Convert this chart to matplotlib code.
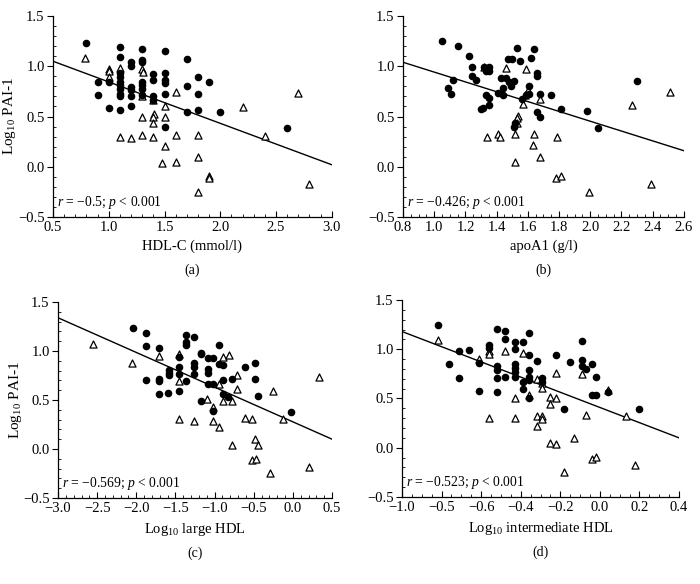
import matplotlib
matplotlib.use("Agg")
import matplotlib.pyplot as plt
from matplotlib.ticker import MultipleLocator
import numpy as np

plt.rcParams['font.family'] = ['Liberation Serif', 'DejaVu Serif']
plt.rcParams['mathtext.fontset'] = 'custom'
plt.rcParams['mathtext.rm'] = 'Liberation Serif'
plt.rcParams['mathtext.it'] = 'Liberation Serif:italic'
plt.rcParams['font.size'] = 10

# (a) HDL-C
a_dot_x = [0.80, 1.1, 1.1, 1.1, 1.1, 1.1, 1.1, 1.1, 1.1, 1.1, 1.1, 1.0, 1.0, 0.9, 0.9,
           1.2, 1.2, 1.2, 1.2, 1.2, 1.2, 1.3, 1.3, 1.3, 1.3, 1.3, 1.3, 1.3,
           1.4, 1.4, 1.4, 1.4, 1.5, 1.5, 1.5, 1.5, 1.5, 1.5, 1.7, 1.7, 1.7,
           1.8, 1.8, 1.8, 1.9, 2.0, 2.6]
a_dot_y = [1.23, 1.19, 1.09, 0.93, 0.89, 0.84, 0.81, 0.77, 0.72, 0.70, 0.565, 0.84, 0.58, 0.84, 0.71,
           1.04, 1.00, 0.79, 0.76, 0.70, 0.60, 1.17, 1.06, 1.04, 0.84, 0.81, 0.77, 0.71,
           0.92, 0.86, 0.70, 0.66, 1.15, 0.93, 0.86, 0.83, 0.72, 0.40, 1.07, 0.80, 0.54,
           0.89, 0.72, 0.56, 0.84, 0.545, 0.39]
a_tri_x = [0.79, 1.0, 1.0, 1.0, 1.1, 1.3, 1.31, 1.3, 1.4, 1.6, 1.5, 1.3, 1.41, 1.4, 1.4, 1.5,
           2.2, 2.7, 1.1, 1.2, 1.3, 1.4, 1.6, 1.8, 2.4, 1.5, 1.8, 1.48, 1.6, 1.9, 1.9, 1.8, 2.8]
a_tri_y = [1.08, 0.97, 0.95, 0.89, 0.98, 0.97, 0.94, 0.70, 0.66, 0.74, 0.60, 0.50, 0.52, 0.50, 0.44, 0.50,
           0.59, 0.73, 0.30, 0.29, 0.32, 0.30, 0.32, 0.32, 0.31, 0.21, 0.10, 0.04, 0.05, -0.09, -0.11, -0.25, -0.17]

# (b) apoA1
b_dot_x = [1.05, 1.15, 1.22, 1.24, 1.24, 1.27, 1.12, 1.09, 1.11, 1.32, 1.33, 1.35, 1.35,
           1.33, 1.35, 1.35, 1.30, 1.31, 1.41, 1.44, 1.44, 1.43, 1.46, 1.48, 1.49, 1.51,
           1.47, 1.50, 1.53, 1.55, 1.62, 1.64, 1.66, 1.66, 1.61, 1.61, 1.59, 1.56, 1.68,
           1.75, 1.66, 1.68, 1.81, 1.98, 2.05, 2.30, 1.51, 1.52]
b_dot_y = [1.25, 1.20, 1.10, 0.99, 0.90, 0.86, 0.86, 0.78, 0.72, 0.99, 0.95, 0.99, 0.95,
           0.71, 0.68, 0.61, 0.57, 0.58, 0.73, 0.71, 0.78, 0.88, 0.88, 0.84, 0.80, 0.85,
           1.07, 1.07, 1.18, 1.05, 1.08, 1.17, 0.93, 0.90, 0.80, 0.72, 0.71, 0.67, 0.72,
           0.71, 0.54, 0.50, 0.57, 0.55, 0.39, 0.85, 0.40, 0.44]
b_tri_x = [1.32, 1.46, 1.59, 1.60, 1.58, 1.68, 1.57, 1.54, 1.53, 1.53, 1.34, 1.41, 1.42,
           1.52, 1.64, 1.79, 1.63, 1.68, 1.52, 1.78, 1.81, 1.99, 2.39, 2.27, 2.51]
b_tri_y = [0.99, 0.98, 0.97, 0.76, 0.71, 0.67, 0.62, 0.51, 0.49, 0.44, 0.30, 0.33, 0.30,
           0.33, 0.33, 0.30, 0.22, 0.10, 0.05, -0.11, -0.09, -0.25, -0.17, 0.61, 0.74]

# (c) log10 large HDL
c_dot_x = [-2.04, -1.87, -1.87, -1.71, -1.87, -1.71, -1.71, -1.71, -1.59, -1.58, -1.58, -1.58,
           -1.46, -1.46, -1.46, -1.46, -1.36, -1.36, -1.36, -1.36, -1.26, -1.26, -1.26, -1.26,
           -1.17, -1.17, -1.17, -1.09, -1.09, -1.09, -1.09, -1.02, -1.02, -0.95, -0.95, -0.89,
           -0.89, -0.89, -0.83, -1.02, -0.78, -0.61, -0.48, -0.48, -0.44, -0.02]
c_dot_y = [1.23, 1.18, 1.05, 1.03, 0.70, 0.71, 0.69, 0.56, 0.57, 0.81, 0.78, 0.76,
           0.94, 0.84, 0.77, 0.59, 1.16, 1.09, 1.06, 0.69, 1.14, 0.88, 0.84, 0.77,
           0.98, 0.97, 0.49, 0.93, 0.82, 0.78, 0.66, 0.93, 0.66, 1.06, 0.87, 0.86,
           0.70, 0.56, 0.53, 0.39, 0.71, 0.84, 0.88, 0.71, 0.54, 0.38]
c_tri_x = [-2.55, -2.05, -1.71, -1.45, -1.45, -0.89, -0.82, -0.95, -0.72, -0.72, -1.10, -1.02,
           -0.89, -0.78, -0.26, 0.34, -1.45, -1.26, -1.02, -0.95, -0.61, -0.52, -0.13, -0.78,
           -0.48, -0.44, -0.52, -0.47, -0.29, 0.21]
c_tri_y = [1.07, 0.88, 0.95, 0.97, 0.69, 0.94, 0.96, 0.66, 0.75, 0.61, 0.51, 0.43,
           0.49, 0.49, 0.59, 0.73, 0.31, 0.29, 0.29, 0.22, 0.32, 0.31, 0.31, 0.04,
           0.10, 0.04, -0.11, -0.10, -0.25, -0.18]

# (d) log10 intermediate HDL
d_dot_x = [-0.82, -0.76, -0.71, -0.71, -0.66, -0.61, -0.61, -0.56, -0.56, -0.52, -0.52, -0.52,
           -0.52, -0.52, -0.48, -0.48, -0.48, -0.43, -0.43, -0.43, -0.43, -0.43, -0.43,
           -0.39, -0.39, -0.39, -0.36, -0.36, -0.36, -0.36, -0.36, -0.36, -0.32, -0.29, -0.29,
           -0.22, -0.18, -0.15, -0.09, -0.09, -0.09, -0.07, -0.04, -0.02, -0.04, -0.02, 0.04, 0.20]
d_dot_y = [1.25, 0.85, 0.98, 0.71, 0.99, 0.86, 0.58, 1.04, 1.01, 1.21, 0.83, 0.79,
           0.71, 0.57, 1.19, 1.10, 0.72, 1.07, 1.00, 0.85, 0.81, 0.77, 0.72,
           1.07, 0.67, 0.60, 1.16, 0.94, 0.79, 0.72, 0.69, 0.50, 0.88, 0.71, 0.67,
           0.94, 0.39, 0.87, 1.08, 0.89, 0.83, 0.80, 0.85, 0.72, 0.54, 0.54, 0.57, 0.39]
d_tri_x = [-0.82, -0.61, -0.56, -0.56, -0.48, -0.39, -0.32, -0.29, -0.29, -0.22, -0.09, 0.04,
           -0.43, -0.36, -0.25, -0.22, -0.25, -0.56, -0.43, -0.32, -0.29, -0.29, -0.32, -0.07,
           0.13, -0.13, -0.25, -0.22, -0.04, -0.02, -0.18, 0.18]
d_tri_y = [1.09, 0.90, 0.98, 0.95, 0.98, 0.96, 0.70, 0.66, 0.61, 0.76, 0.75, 0.59,
           0.50, 0.54, 0.52, 0.51, 0.44, 0.30, 0.30, 0.32, 0.32, 0.29, 0.22, 0.33,
           0.32, 0.10, 0.05, 0.04, -0.11, -0.09, -0.25, -0.18]

# regression lines: (intercept, slope)
fits = [(1.256, -0.412), (1.431, -0.489), (0.277, -0.354), (0.409, -0.771)]
stats = [r'$r$ = −0.5; $p$ < 0.001', r'$r$ = −0.426; $p$ < 0.001',
         r'$r$ = −0.569; $p$ < 0.001', r'$r$ = −0.523; $p$ < 0.001']
xlabels = ['HDL-C (mmol/l)', 'apoA1 (g/l)', r'Log$_{10}$ large HDL', r'Log$_{10}$ intermediate HDL']
captions = ['(a)', '(b)', '(c)', '(d)']
xlims = [(0.5, 3.0), (0.8, 2.6), (-3.0, 0.5), (-1.0, 0.4)]
xmajor = [0.5, 0.2, 0.5, 0.2]
xminor = [0.1, 0.05, 0.1, 0.05]
d_ticks = [-1.0, -0.8, -0.6, -0.4, -0.2, 0.0, 0.2, 0.4]
d_ticklabels = ['−1.0', '−0.5', '−0.6', '−0.4', '−0.2', '0.0', '0.2', '0.4']

dots = [(a_dot_x, a_dot_y), (b_dot_x, b_dot_y), (c_dot_x, c_dot_y), (d_dot_x, d_dot_y)]
tris = [(a_tri_x, a_tri_y), (b_tri_x, b_tri_y), (c_tri_x, c_tri_y), (d_tri_x, d_tri_y)]

fig = plt.figure(figsize=(7, 5.84), dpi=100)
rects = [[0.0757, 0.6284, 0.3983, 0.3442],
         [0.5757, 0.6284, 0.4013, 0.3442],
         [0.0829, 0.1473, 0.3914, 0.3356],
         [0.5743, 0.1490, 0.3957, 0.3373]]
caption_y = [-0.265, -0.265, -0.28, -0.28]

fmt = plt.FuncFormatter(lambda v, p: f'{v:.1f}'.replace('-', '−'))

for i in range(4):
    ax = fig.add_axes(rects[i])
    ax.scatter(*tris[i], marker='^', s=26, facecolors='white', edgecolors='black',
               linewidths=0.9, zorder=3)
    ax.scatter(*dots[i], marker='o', s=20, color='black', zorder=4)
    lo, hi = xlims[i]
    xs = np.array([lo, hi])
    b0, b1 = fits[i]
    ax.plot(xs, b0 + b1 * xs, color='black', lw=1.0, zorder=2)

    ax.set_xlim(lo, hi)
    ax.set_ylim(-0.5, 1.5)
    ax.xaxis.set_major_locator(MultipleLocator(xmajor[i]))
    ax.xaxis.set_minor_locator(MultipleLocator(xminor[i]))
    ax.yaxis.set_major_locator(MultipleLocator(0.5))
    ax.yaxis.set_minor_locator(MultipleLocator(0.1))
    ax.yaxis.set_major_formatter(fmt)
    ax.xaxis.set_major_formatter(fmt)
    if i == 3:
        ax.set_xticks(d_ticks)
        ax.set_xticklabels(d_ticklabels)
    for s in ['top', 'right']:
        ax.spines[s].set_visible(False)
    for s in ['left', 'bottom']:
        ax.spines[s].set_linewidth(0.9)
    ax.tick_params(axis='x', which='major', direction='in', length=4, width=0.8, pad=3)
    ax.tick_params(axis='x', which='minor', direction='in', length=2, width=0.6)
    ax.tick_params(axis='y', which='major', direction='out', length=4, width=0.8, pad=2)
    ax.tick_params(axis='y', which='minor', direction='in', length=2, width=0.6)
    ax.tick_params(labelsize=10.5)

    ax.text(0.015, 0.03, stats[i], transform=ax.transAxes, fontsize=9.8, ha='left', va='bottom')
    ax.set_xlabel(xlabels[i], fontsize=10.5, labelpad=4)
    if i in (0, 2):
        ax.set_ylabel(r'Log$_{10}$ PAI-1', fontsize=11)
        ax.yaxis.set_label_coords(-0.125, 0.5)
    ax.text(0.5, caption_y[i], captions[i], transform=ax.transAxes,
            ha='center', va='center', fontsize=10)

fig.savefig('out.png', dpi=100)
